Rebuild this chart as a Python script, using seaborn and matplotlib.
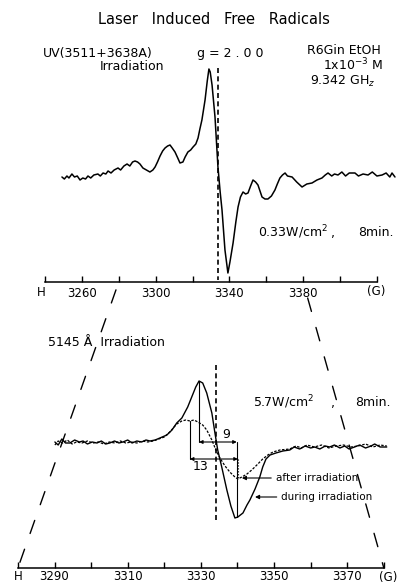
import numpy as np
import pandas as pd
import seaborn as sns
import matplotlib.pyplot as plt
from matplotlib.patches import ConnectionPatch

# upper spectrum: UV irradiation (field in G, signal in arbitrary units)
top_field = [3249.2, 3250.5, 3251.9, 3253.0, 3254.6, 3256.0, 3257.5, 3259.0, 3260.5, 3262.0,
             3263.3, 3264.8, 3266.5, 3268.7, 3270.0, 3271.5, 3273.0, 3274.2, 3275.8, 3277.5,
             3279.6, 3281.0, 3282.8, 3284.5, 3286.0, 3287.5, 3288.8, 3290.2, 3291.5, 3293.1,
             3295.0, 3296.9, 3298.5, 3299.7, 3301.0, 3302.4, 3303.8, 3305.1, 3306.5, 3307.8,
             3309.0, 3310.5, 3312.0, 3313.2, 3314.8, 3316.0, 3317.5, 3319.0, 3320.3, 3321.8,
             3323.0, 3324.0, 3325.1, 3326.8, 3328.0, 3328.9, 3329.6, 3330.6, 3332.2, 3333.8,
             3335.0, 3336.0, 3337.6, 3339.2, 3340.3, 3342.0, 3343.5, 3344.7, 3346.0, 3347.4,
             3348.8, 3350.1, 3351.5, 3352.8, 3354.2, 3355.5, 3356.6, 3357.7, 3359.3, 3360.9,
             3362.8, 3364.7, 3366.0, 3367.4, 3368.8, 3370.2, 3371.5, 3374.0, 3376.5, 3379.4,
             3382.0, 3384.8, 3387.5, 3390.2, 3392.0, 3393.5, 3395.5, 3397.0, 3398.9, 3401.0,
             3403.0, 3405.0, 3408.1, 3410.0, 3412.5, 3415.2, 3417.5, 3420.0, 3422.8, 3425.0,
             3427.0, 3428.2, 3429.8]
top_signal = [0, -2, 1, -1, 3, 0, 1, -3, -1, -2,
              1, -1, 2, 3, 1, 4, 3, 6, 4, 7,
              9, 7, 11, 13, 11, 15, 16, 15, 13, 9,
              7, 5, 7, 10, 15, 21, 26, 29, 31, 32,
              29, 25, 19, 14, 15, 20, 25, 27, 30, 33,
              39, 48, 57, 77, 96, 108, 105, 92, 60, 10,
              -15, -33, -73, -96, -85, -66, -45, -30, -20, -15,
              -17, -16, -9, -3, -5, -8, -14, -20, -22, -22,
              -19, -13, -7, -1, 2, 4, 1, 0, -5, -10,
              -7, -6, -3, -1, 2, 4, 1, 3, 2, 5,
              1, 4, 4, 1, 3, 2, 5, 1, 2, 4,
              0, 4, 0]

# lower spectra: 5145 A irradiation
during_field = [3290.1, 3291.0, 3292.0, 3293.0, 3294.2, 3295.5, 3296.8, 3297.8, 3299.0, 3300.3,
                3301.6, 3302.8, 3304.0, 3305.1, 3306.4, 3307.6, 3308.7, 3310.0, 3311.2, 3312.5,
                3313.8, 3315.0, 3316.1, 3317.5, 3318.8, 3320.7, 3322.1, 3323.4, 3324.8, 3326.4,
                3327.5, 3328.6, 3329.5, 3330.5, 3331.6, 3333.0, 3333.8, 3334.6, 3335.7, 3337.1,
                3338.2, 3339.3, 3340.1, 3341.5, 3342.6, 3343.4, 3344.8, 3346.1, 3346.9, 3347.8,
                3348.9, 3350.5, 3352.4, 3354.3, 3355.5, 3357.0, 3358.5, 3360.0, 3361.1, 3362.5,
                3364.0, 3365.2, 3366.5, 3368.0, 3369.3, 3370.5, 3372.0, 3373.4, 3375.0, 3376.5,
                3377.5, 3379.0, 3380.8]
during_signal = [1, -2, 4, 0, 0, 3, 1, 2, -1, 1,
                 0, 2, -1, 0, 2, 0, 1, 3, 0, 2,
                 1, 3, 2, 3, 5, 8, 13, 20, 25, 36,
                 46, 56, 62, 60, 50, 30, 11, -7, -24, -47,
                 -63, -75, -74, -70, -62, -57, -46, -34, -24, -16,
                 -12, -10, -8, -7, -4, -6, -3, -5, -4, -6,
                 -3, -4, -2, -5, -3, -6, -4, -2, -5, -3,
                 -1, -4, -4]

after_field = [3290.1, 3291.0, 3292.2, 3293.5, 3294.8, 3296.0, 3297.5, 3299.0, 3300.5, 3302.0,
               3303.5, 3305.0, 3306.5, 3308.0, 3309.5, 3311.0, 3312.5, 3314.0, 3315.5, 3317.0,
               3318.5, 3320.0, 3321.5, 3323.4, 3324.8, 3325.9, 3327.0, 3328.1, 3329.2, 3330.5,
               3331.6, 3333.0, 3334.1, 3335.2, 3336.6, 3337.9, 3339.3, 3340.1, 3341.2, 3342.6,
               3343.9, 3345.3, 3346.9, 3348.3, 3349.7, 3351.6, 3354.3, 3356.0, 3357.5, 3359.0,
               3361.0, 3363.0, 3365.0, 3367.0, 3369.0, 3371.0, 3373.0, 3375.0, 3377.0, 3379.0,
               3380.8]
after_signal = [-2, 2, 0, 3, -1, 1, 0, 2, 0, 1,
                -1, 1, 0, 2, 0, 1, 0, 2, 1, 2,
                4, 6, 11, 19, 22, 23, 22, 23, 21, 18,
                13, 3, -7, -15, -23, -29, -34, -36, -34, -31,
                -27, -22, -16, -12, -9, -7, -6, -3, -5, -2,
                -4, -2, -5, -3, -2, -4, -3, -1, -4, -2,
                -3]

top_ticks = list(range(3240, 3421, 20))
top_labels = [3260, 3300, 3340, 3380]
bottom_ticks = list(range(3280, 3381, 10))
bottom_labels = [3290, 3310, 3330, 3350, 3370]
g_field = 3334.0

sns.set_style("white")
plt.rcParams['font.family'] = ['DejaVu Sans']
plt.rcParams['text.color'] = 'black'

W, H = 397, 584
fig = plt.figure(figsize=(W / 100, H / 100), dpi=100)

def fx(x):
    return x / W

def fy(y):
    return 1 - y / H

ax1 = fig.add_axes([0, fy(282), 1, (282 - 40) / H])
ax2 = fig.add_axes([0, fy(568), 1, (568 - 360) / H])
ax1.set_xlim(3215.6, 3430.9)
ax1.set_ylim(-105, 137)
ax2.set_xlim(3275.1, 3383.6)
ax2.set_ylim(-125, 83)

top_df = pd.DataFrame({"field": top_field, "signal": top_signal})
during_df = pd.DataFrame({"field": during_field, "signal": during_signal})
after_df = pd.DataFrame({"field": after_field, "signal": after_signal})

sns.lineplot(data=top_df, x="field", y="signal", sort=False, estimator=None,
             ax=ax1, color="black", lw=1.1)
sns.lineplot(data=during_df, x="field", y="signal", sort=False, estimator=None,
             ax=ax2, color="black", lw=1.0)
sns.lineplot(data=after_df, x="field", y="signal", sort=False, estimator=None,
             ax=ax2, color="black", lw=0.9, linestyle=(0, (2, 1.2)))

for ax, ticks, labs, lo, hi, pad in [(ax1, top_ticks, top_labels, 3240, 3420, 3.5),
                                     (ax2, bottom_ticks, bottom_labels, 3280, 3380, 1.5)]:
    ax.patch.set_visible(False)
    for s in ["left", "right", "top"]:
        ax.spines[s].set_visible(False)
    ax.spines["bottom"].set_bounds(lo, hi)
    ax.spines["bottom"].set_linewidth(1.1)
    ax.spines["bottom"].set_color("black")
    ax.set_yticks([])
    ax.set_xticks(ticks)
    ax.set_xticklabels([str(t) if t in labs else "" for t in ticks])
    ax.tick_params(axis="x", direction="in", length=4, width=1, pad=pad,
                   labelsize=8.5, colors="black", bottom=True)
    ax.set_xlabel("")
    ax.set_ylabel("")

# g = 2.00 marker
ax1.plot([g_field, g_field], [109, -103], color="black", lw=1.2, ls=(0, (3, 2)))
ax2.plot([g_field, g_field], [78, -79], color="black", lw=1.2, ls=(0, (3, 2)))

# peak-to-peak widths
ax2.plot([3329.5, 3329.5], [62, 1], color="black", lw=0.8)
ax2.plot([3339.8, 3339.8], [1, -74], color="black", lw=0.8)
ax2.annotate("", xy=(3329.5, 1), xytext=(3339.8, 1),
             arrowprops=dict(arrowstyle="<|-|>", lw=0.8, color="black",
                             shrinkA=0, shrinkB=0, mutation_scale=5))
ax2.plot([3327.0, 3327.0], [22, -16], color="black", lw=0.8)
ax2.plot([3340.1, 3340.1], [-16, -36], color="black", lw=0.8, ls=":")
ax2.annotate("", xy=(3327.0, -16), xytext=(3340.1, -16),
             arrowprops=dict(arrowstyle="<|-|>", lw=0.8, color="black",
                             shrinkA=0, shrinkB=0, mutation_scale=5))
ax2.text(3336.8, 8, "9", fontsize=9, ha="center", va="center")
ax2.text(3330.0, -24, "13", fontsize=9, ha="center", va="center")

ax2.annotate("after irradiation", xy=(3341.2, -35), xytext=(3350.5, -35),
             fontsize=7.5, ha="left", va="center",
             arrowprops=dict(arrowstyle="-|>", lw=0.8, color="black",
                             shrinkA=1, shrinkB=0, mutation_scale=6))
ax2.annotate("during irradiation", xy=(3344.8, -54), xytext=(3352.0, -54),
             fontsize=7.5, ha="left", va="center",
             arrowprops=dict(arrowstyle="-|>", lw=0.8, color="black",
                             shrinkA=1, shrinkB=0, mutation_scale=6))

# dashed lines linking the expanded region
for xf, sh in [(3280, 6), (3380, 12)]:
    con = ConnectionPatch(xyA=(xf, -105), coordsA="data", axesA=ax1,
                          xyB=(xf, -125), coordsB="data", axesB=ax2,
                          color="black", lw=1.0, ls=(0, (10, 12)),
                          shrinkA=sh, shrinkB=0)
    fig.add_artist(con)

# text
fig.text(fx(214), fy(20), "Laser   Induced   Free   Radicals", fontsize=10.5,
         ha="center", va="center")
fig.text(fx(43), fy(53), "UV(3511+3638A)", fontsize=9, ha="left", va="center")
fig.text(fx(100), fy(67), "Irradiation", fontsize=9, ha="left", va="center")
fig.text(fx(197), fy(53), "g = 2 . 0 0", fontsize=9, ha="left", va="center")
fig.text(fx(307), fy(50), "R6Gin EtOH", fontsize=9, ha="left", va="center")
fig.text(fx(323), fy(65), "1x10$^{-3}$ M", fontsize=9, ha="left", va="center")
fig.text(fx(310), fy(81), "9.342 GH$_{z}$", fontsize=9, ha="left", va="center")
fig.text(fx(258), fy(232), "0.33W/cm$^{2}$", fontsize=9, ha="left", va="center")
fig.text(fx(333), fy(234), ",", fontsize=9, ha="center", va="center")
fig.text(fx(358), fy(232), "8min.", fontsize=9, ha="left", va="center")
fig.text(fx(41), fy(292), "H", fontsize=8.5, ha="center", va="center")
fig.text(fx(376), fy(292), "(G)", fontsize=8.5, ha="center", va="center")
fig.text(fx(48), fy(342), "5145 Å  Irradiation", fontsize=9, ha="left", va="center")
fig.text(fx(253), fy(402), "5.7W/cm$^{2}$", fontsize=9, ha="left", va="center")
fig.text(fx(333), fy(404), ",", fontsize=9, ha="center", va="center")
fig.text(fx(355), fy(402), "8min.", fontsize=9, ha="left", va="center")
fig.text(fx(18), fy(577), "H", fontsize=8.5, ha="center", va="center")
fig.text(fx(388), fy(577), "(G)", fontsize=8.5, ha="center", va="center")

fig.savefig("out.png", dpi=100)
